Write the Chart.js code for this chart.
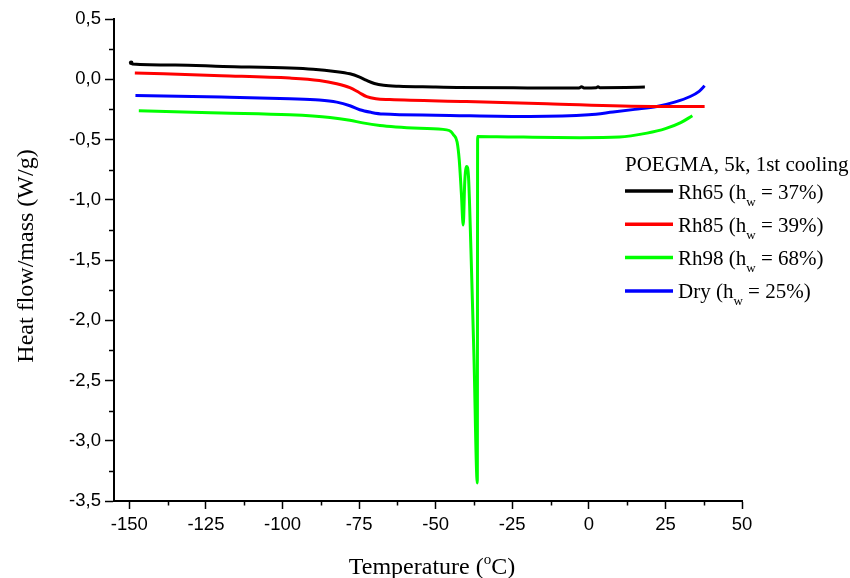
<!DOCTYPE html>
<html>
<head>
<meta charset="utf-8">
<title>POEGMA 5k - 1st cooling</title>
<script src="https://cdn.jsdelivr.net/npm/chart.js@4.4.1/dist/chart.umd.min.js"></script>
<style>
  html, body { margin: 0; padding: 0; background: #fff; }
  canvas { display: block; }
</style>
</head>
<body>
<canvas id="dscChart" width="850" height="578"></canvas>
<script>
const xTicks = [-150, -125, -100, -75, -50, -25, 0, 25, 50];
const yTicks = [0.5, 0, -0.5, -1, -1.5, -2, -2.5, -3, -3.5];

// Rh65 run
const rh65Temp = [-149.4, -149, -135, -119.4, -97.6, -90, -82.9, -78, -75, -72.5, -70, -67, -62, -50, -43, -20, -3.2, -2.4, -1.6, 2.4, 3.0, 3.6, 12, 18.3];
const rh65Flow = [0.145, 0.126, 0.118, 0.106, 0.093, 0.083, 0.065, 0.045, 0.02, -0.01, -0.035, -0.05, -0.058, -0.064, -0.068, -0.072, -0.073, -0.062, -0.072, -0.07, -0.063, -0.07, -0.068, -0.065];

// Rh85 run
const rh85Temp = [-148.2, -120, -97.6, -88, -82.3, -78, -75, -72.5, -69.5, -65, -40, -13.7, 20.9, 37.8];
const rh85Flow = [0.052, 0.03, 0.01, -0.01, -0.037, -0.07, -0.11, -0.145, -0.162, -0.168, -0.185, -0.204, -0.226, -0.226];

// Rh98 run
const rh98Temp = [-146.9, -120, -97.6, -84.5, -78, -73.8, -68.2, -63, -55.2, -46.4, -45, -44.2, -43, -42.3, -41.6, -41.0, -40.5, -39.9, -39.3, -38.5, -37.5, -36.4, -36.3, -30, -2.9, 10, 19, 25, 30, 33.8];
const rh98Flow = [-0.262, -0.28, -0.295, -0.317, -0.34, -0.362, -0.384, -0.396, -0.407, -0.42, -0.434, -0.46, -0.52, -0.67, -0.95, -1.21, -0.85, -0.724, -0.8, -1.4, -2.3, -3.35, -0.475, -0.477, -0.485, -0.48, -0.447, -0.41, -0.36, -0.303];

// Dry run
const dryTemp = [-148, -120, -97.6, -88, -82.3, -78, -74.8, -71, -67.2, -50, -19.2, 0, 7.9, 15, 22.2, 28, 33.1, 36, 37.8];
const dryFlow = [-0.135, -0.148, -0.162, -0.172, -0.19, -0.22, -0.253, -0.275, -0.289, -0.298, -0.309, -0.295, -0.272, -0.25, -0.226, -0.19, -0.143, -0.1, -0.054];

const legendTitle = "POEGMA, 5k, 1st cooling";
const seriesNames = ["Rh65", "Rh85", "Rh98", "Dry"];
const waterContent = ["37%", "39%", "68%", "25%"];
const seriesColors = ["#000000", "#ff0000", "#00ff00", "#0000ff"];

const sans = "'Liberation Sans', Arial, sans-serif";
const serif = "'Liberation Serif', 'Times New Roman', serif";

function toPoints(xs, ys) {
  return xs.map((x, i) => ({ x: x, y: ys[i] }));
}

const runs = [
  toPoints(rh65Temp, rh65Flow),
  toPoints(rh85Temp, rh85Flow),
  toPoints(rh98Temp, rh98Flow),
  toPoints(dryTemp, dryFlow)
];

// minor ticks sit halfway between the labelled ones
function midpoints(ticks) {
  const out = [];
  for (let i = 0; i < ticks.length - 1; i++) out.push((ticks[i] + ticks[i + 1]) / 2);
  return out;
}

function drawScript(ctx, parts, x, y) {
  // parts: [text, font, baselineShift]
  let cx = x;
  parts.forEach(([text, font, shift]) => {
    ctx.font = font;
    ctx.fillText(text, cx, y + shift);
    cx += ctx.measureText(text).width;
  });
  return cx - x;
}

function measureScript(ctx, parts) {
  let w = 0;
  parts.forEach(([text, font]) => {
    ctx.font = font;
    w += ctx.measureText(text).width;
  });
  return w;
}

const decorations = {
  id: "decorations",
  afterDraw(chart) {
    const ctx = chart.ctx;
    const xs = chart.scales.x;
    const ys = chart.scales.y;
    const area = chart.chartArea;
    ctx.save();

    // minor ticks
    ctx.strokeStyle = "#000";
    ctx.lineWidth = 1.5;
    ctx.beginPath();
    midpoints(xTicks).forEach((v) => {
      const px = Math.round(xs.getPixelForValue(v)) + 0.5;
      ctx.moveTo(px, area.bottom);
      ctx.lineTo(px, area.bottom + 4.5);
    });
    midpoints(yTicks).forEach((v) => {
      const py = Math.round(ys.getPixelForValue(v)) + 0.5;
      ctx.moveTo(area.left, py);
      ctx.lineTo(area.left - 5, py);
    });
    ctx.stroke();

    // heavier dot where the Rh65 trace begins
    ctx.fillStyle = seriesColors[0];
    ctx.beginPath();
    ctx.arc(xs.getPixelForValue(rh65Temp[0]), ys.getPixelForValue(rh65Flow[0]) + 1, 2.3, 0, Math.PI * 2);
    ctx.fill();

    ctx.fillStyle = "#000";
    ctx.textAlign = "left";
    ctx.textBaseline = "alphabetic";

    // x title with superscript degree
    const xParts = [
      ["Temperature (", "24px " + serif, 0],
      ["o", "15px " + serif, -10],
      ["C)", "24px " + serif, 0]
    ];
    const xw = measureScript(ctx, xParts);
    drawScript(ctx, xParts, 432 - xw / 2, 574);

    // y title
    ctx.save();
    ctx.translate(33, 256);
    ctx.rotate(-Math.PI / 2);
    ctx.font = "24px " + serif;
    ctx.textAlign = "center";
    ctx.fillText("Heat flow/mass (W/g)", 0, 0);
    ctx.restore();

    // legend
    ctx.font = "21px " + serif;
    ctx.fillText(legendTitle, 625, 171);
    seriesNames.forEach((name, i) => {
      const ly = 191 + i * 33.3;
      ctx.strokeStyle = seriesColors[i];
      ctx.lineWidth = 3.5;
      ctx.beginPath();
      ctx.moveTo(625, ly);
      ctx.lineTo(673, ly);
      ctx.stroke();
      drawScript(ctx, [
        [name + " (h", "21px " + serif, 0],
        ["w", "13px " + serif, 7],
        [" = " + waterContent[i] + ")", "21px " + serif, 0]
      ], 678, ly + 7.5);
    });

    ctx.restore();
  }
};

new Chart(document.getElementById("dscChart"), {
  type: "line",
  data: {
    datasets: runs.map((pts, i) => ({
      label: seriesNames[i],
      data: pts,
      borderColor: seriesColors[i],
      backgroundColor: seriesColors[i],
      borderWidth: 3,
      pointRadius: 0,
      cubicInterpolationMode: "monotone",
      fill: false
    }))
  },
  options: {
    responsive: false,
    animation: false,
    clip: false,
    layout: { padding: { top: 19, right: 108, left: 0, bottom: 0 } },
    plugins: {
      legend: { display: false },
      tooltip: { enabled: false }
    },
    scales: {
      x: {
        type: "linear",
        min: -155,
        max: 50,
        afterBuildTicks: (scale) => { scale.ticks = xTicks.map((v) => ({ value: v })); },
        afterFit: (scale) => { scale.height = 77; },
        grid: { drawOnChartArea: false, drawTicks: true, tickLength: 8, tickWidth: 1.5, tickColor: "#000" },
        border: { display: true, color: "#000", width: 2 },
        ticks: {
          color: "#000",
          font: { family: sans, size: 18.5 },
          padding: 5,
          maxRotation: 0,
          autoSkip: false,
          callback: (v) => String(v)
        }
      },
      y: {
        type: "linear",
        min: -3.5,
        max: 0.5,
        afterBuildTicks: (scale) => { scale.ticks = yTicks.map((v) => ({ value: v })); },
        afterFit: (scale) => { scale.width = 114; },
        grid: { drawOnChartArea: false, drawTicks: true, tickLength: 9, tickWidth: 1.5, tickColor: "#000" },
        border: { display: true, color: "#000", width: 2 },
        ticks: {
          color: "#000",
          font: { family: sans, size: 18.5 },
          padding: 4,
          autoSkip: false,
          callback: (v) => v.toFixed(1).replace(".", ",")
        }
      }
    }
  },
  plugins: [decorations]
});
</script>
</body>
</html>
